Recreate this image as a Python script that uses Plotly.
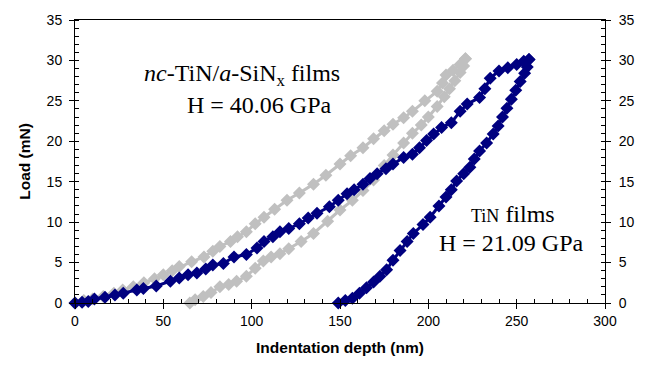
import plotly.graph_objects as go

# TiN film: loading branch (depth nm, load mN)
tin_load_depth = [0, 4, 7.5, 11, 17, 22.6, 27.3, 35, 38.7, 46, 54, 59, 64, 69, 74, 78, 84, 90, 97,
                  103, 107, 112, 116, 121, 127, 132, 137, 144, 149, 154, 158, 163, 167, 171, 176,
                  180, 186, 191, 195, 199, 203, 207.5, 213, 218, 222, 229, 232, 235, 240, 245, 250, 254, 257]
tin_load_force = [0, 0.1, 0.2, 0.5, 0.7, 1.0, 1.2, 1.6, 1.8, 2.1, 2.7, 3.1, 3.5, 3.7, 4.2, 4.7, 4.9, 5.7, 6.0,
                  6.8, 7.6, 8.2, 8.8, 9.2, 9.8, 10.5, 11.1, 11.9, 12.7, 13.5, 14.0, 14.7, 15.4, 16.0, 16.6,
                  17.2, 18.0, 18.4, 19.2, 20.1, 20.9, 21.7, 22.3, 23.7, 24.6, 25.4, 26.5, 27.8, 28.7, 29.1, 29.5, 29.9, 30.1]

# TiN film: unloading branch
tin_unload_depth = [257, 256, 254.5, 252, 249.5, 247, 244.5, 242, 239.5, 236.7, 233, 229, 226, 223.5, 220, 216,
                    213, 210, 206, 201, 197, 191.5, 188, 184, 180, 176.4, 172.6, 169, 165, 161, 157, 153, 149]
tin_unload_force = [30.1, 29.2, 28.4, 27.4, 26.3, 25.2, 24.1, 23.0, 21.9, 20.9, 19.8, 18.8, 17.8, 16.8, 16.0, 15.1,
                    14.0, 13.1, 12.0, 10.6, 9.7, 8.6, 7.6, 6.5, 5.3, 4.1, 3.3, 2.6, 1.9, 1.2, 0.6, 0.3, 0]

# nc-TiN/a-SiNx film: loading branch
nc_load_depth = [0, 5, 10, 16, 22, 27, 33, 39, 45, 50, 55, 59, 66, 73, 78, 82, 88, 92, 97, 102, 107, 113,
                 120, 127, 135, 142, 150, 156, 163, 169, 175, 180, 186, 191, 198, 205, 208, 210, 214, 218, 221]
nc_load_force = [0, 0.3, 0.5, 0.8, 1.2, 1.6, 2.0, 2.5, 3.0, 3.5, 4.0, 4.5, 5.1, 5.7, 6.4, 7.0, 7.6, 8.2, 8.8, 9.8,
                 10.6, 11.6, 12.7, 13.6, 14.7, 15.8, 17.2, 18.2, 19.2, 20.3, 21.3, 22.1, 22.9, 23.7, 25.0, 26.2,
                 27.2, 28.2, 28.8, 29.5, 30.2]

# nc-TiN/a-SiNx film: unloading branch
nc_unload_depth = [221, 220, 218, 215, 212, 209, 205, 200, 196, 191, 186, 180, 175, 169, 163, 157, 150, 143,
                   135, 128, 121, 116, 111, 106.6, 102, 97, 91.5, 87, 82, 77, 72.6, 68, 65]
nc_unload_force = [30.2, 29.3, 28.5, 27.5, 26.5, 25.5, 24.3, 23.0, 22.0, 21.0, 19.8, 18.3, 17.0, 15.2, 13.9, 12.7,
                   11.5, 10.1, 8.6, 7.6, 6.7, 6.1, 5.7, 5.2, 4.3, 3.3, 2.7, 2.3, 2.0, 1.3, 0.8, 0.4, 0]

GRAY = "#C0C0C0"
NAVY = "#000080"

fig = go.Figure()


def add_curve(xs, ys, color):
    fig.add_trace(go.Scatter(
        x=xs, y=ys, mode="lines+markers",
        line=dict(color=color, width=3),
        marker=dict(symbol="diamond", size=10, color=color, line=dict(width=0)),
        cliponaxis=False, showlegend=False, hoverinfo="skip",
    ))


add_curve(nc_load_depth, nc_load_force, GRAY)
add_curve(nc_unload_depth, nc_unload_force, GRAY)
add_curve(tin_load_depth, tin_load_force, NAVY)
add_curve(tin_unload_depth, tin_unload_force, NAVY)

# invisible trace to attach the right-hand load axis
fig.add_trace(go.Scatter(x=[0], y=[0], yaxis="y2", mode="markers",
                         marker=dict(opacity=0), showlegend=False, hoverinfo="skip"))

tick_font = dict(family="Liberation Sans, Arial", size=14, color="black")
title_font = dict(family="Liberation Sans, Arial", size=15.5, color="black")
serif = "Liberation Serif, Times New Roman"

fig.update_layout(
    width=651, height=366,
    margin=dict(l=75, r=46, t=18, b=63),
    paper_bgcolor="white", plot_bgcolor="white",
    showlegend=False,
    xaxis=dict(
        range=[0, 300], dtick=50, tick0=0,
        showline=True, linecolor="black", linewidth=1, mirror=True,
        ticks="outside", ticklen=5, tickcolor="black",
        minor=dict(dtick=10, ticks="inside", ticklen=4, tickcolor="black"),
        showgrid=False, zeroline=False,
        tickfont=tick_font,
        title=dict(text="<b>Indentation depth (nm)</b>", font=title_font, standoff=14),
    ),
    yaxis=dict(
        range=[0, 35], dtick=5, tick0=0,
        showline=True, linecolor="black", linewidth=1,
        ticks="outside", ticklen=5, tickcolor="black", ticklabelstandoff=4,
        minor=dict(dtick=1, ticks="inside", ticklen=4, tickcolor="black"),
        showgrid=False, zeroline=False,
        tickfont=tick_font,
        title=dict(text="<b>Load (mN)</b>", font=title_font, standoff=12),
    ),
    yaxis2=dict(
        overlaying="y", side="right", matches="y",
        range=[0, 35], dtick=5, tick0=0,
        showline=True, linecolor="black", linewidth=1,
        ticks="outside", ticklen=5, tickcolor="black", ticklabelstandoff=5,
        minor=dict(dtick=1, ticks="inside", ticklen=4, tickcolor="black"),
        showgrid=False, zeroline=False,
        tickfont=tick_font,
    ),
)

ann_font = dict(family=serif, size=24, color="black")
fig.add_annotation(x=94.5, y=28.2, xref="x", yref="y", showarrow=False, font=ann_font,
                   text="<i>nc</i>-TiN/<i>a</i>-SiN<sub>x</sub> films")
fig.add_annotation(x=104.7, y=24.5, xref="x", yref="y", showarrow=False, font=ann_font,
                   text="H = 40.06 GPa")
fig.add_annotation(x=247.9, y=11.0, xref="x", yref="y", showarrow=False, font=ann_font,
                   text="<span style='font-size:18px'>TiN</span> films")
fig.add_annotation(x=247.3, y=7.4, xref="x", yref="y", showarrow=False, font=ann_font,
                   text="H = 21.09 GPa")

fig.write_html("out.html")
